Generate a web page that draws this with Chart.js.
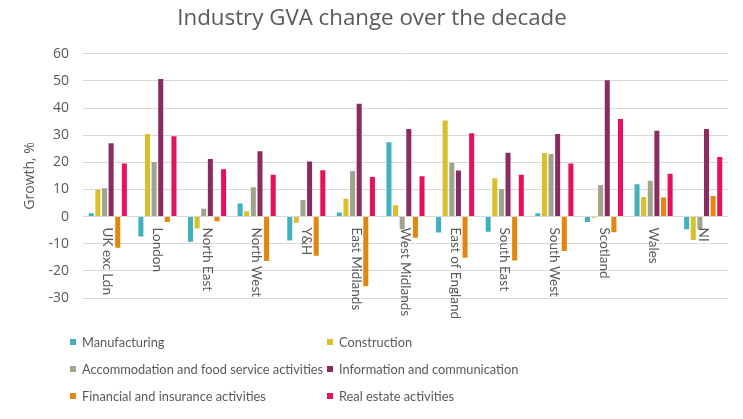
<!DOCTYPE html>
<html>
<head>
<meta charset="utf-8">
<script src="https://cdn.jsdelivr.net/npm/chart.js@4.4.0/dist/chart.umd.min.js"></script>
<style>
  html, body { margin: 0; padding: 0; background: #ffffff; }
  #wrap { position: relative; width: 743px; height: 419px; overflow: hidden; }
  #c { position: absolute; left: 0; top: 0; }
  #legend { position: absolute; left: 70px; top: 332px; font-family: Lato, sans-serif; font-size: 12.8px; color: #595959;
            display: grid; grid-template-columns: 257px 300px; row-gap: 7px; }
  .item { display: flex; align-items: center; height: 20px; white-space: nowrap; }
  .sw { width: 6px; height: 6px; margin-right: 6px; flex: none; }
</style>
</head>
<body>
<div id="wrap">
  <canvas id="c" width="743" height="419"></canvas>
  <div id="legend"></div>
</div>
<script>
const categories = ["UK exc Ldn", "London", "North East", "North West", "Y&H", "East Midlands", "West Midlands", "East of England", "South East", "South West", "Scotland", "Wales", "NI"];
const seriesNames = ["Manufacturing", "Construction", "Accommodation and food service activities", "Information and communication", "Financial and insurance activities", "Real estate activities"];
const manufacturing = [1.2, -7.3, -9.3, 4.8, -8.8, 1.5, 27.4, -5.9, -5.6, 1.2, -2.0, 11.9, -4.7];
const construction = [10.0, 30.4, -4.4, 2.0, -2.3, 6.6, 4.2, 35.4, 14.1, 23.4, -0.4, 7.2, -8.6];
const accommodation = [10.4, 20.1, 2.9, 10.8, 6.1, 16.8, -4.7, 19.8, 10.2, 23.1, 11.6, 13.2, -4.7];
const information = [27.0, 50.7, 21.2, 24.1, 20.3, 41.6, 32.3, 17.0, 23.5, 30.4, 50.2, 31.6, 32.3];
const financial = [-11.5, -2.0, -1.7, -16.4, -14.4, -25.7, -7.8, -15.2, -16.2, -12.7, -5.8, 7.0, 7.6];
const realEstate = [19.6, 29.6, 17.4, 15.4, 17.1, 14.6, 14.9, 30.7, 15.4, 19.6, 36.0, 15.8, 22.0];
const yTicks = [-30, -20, -10, 0, 10, 20, 30, 40, 50, 60];

const colors = ["#3fb1bf", "#d9bf2a", "#a3a38d", "#8a2c5f", "#e1870f", "#e5115b"];
const allData = [manufacturing, construction, accommodation, information, financial, realEstate];
const textColor = "#595959";

const datasets = seriesNames.map((name, i) => ({
  label: name,
  data: allData[i],
  backgroundColor: colors[i],
  borderWidth: 0,
  barPercentage: 0.76,
  categoryPercentage: 0.8
}));

const catLabels = {
  id: 'catLabels',
  afterDatasetsDraw(chart) {
    const ctx = chart.ctx;
    const xs = chart.scales.x, ys = chart.scales.y;
    const y0 = ys.getPixelForValue(0);
    ctx.save();
    ctx.font = '13.5px Lato, sans-serif';
    ctx.fillStyle = textColor;
    ctx.textAlign = 'left';
    ctx.textBaseline = 'middle';
    categories.forEach((c, i) => {
      const x = xs.getPixelForValue(i);
      ctx.save();
      ctx.translate(x, y0 + 11);
      ctx.rotate(Math.PI / 2);
      ctx.fillText(c, 0, 0);
      ctx.restore();
    });
    ctx.restore();
  }
};

new Chart(document.getElementById('c'), {
  type: 'bar',
  data: { labels: categories, datasets },
  options: {
    responsive: false,
    animation: false,
    layout: { padding: { left: 16, right: 15, top: 0, bottom: 121 } },
    plugins: {
      legend: { display: false },
      tooltip: { enabled: false },
      title: {
        display: true,
        text: 'Industry GVA change over the decade',
        color: textColor,
        font: { family: '"Open Sans", sans-serif', size: 22.3, weight: 'normal' },
        padding: { top: 5, bottom: 22 }
      }
    },
    scales: {
      x: {
        display: false,
        grid: { display: false }
      },
      y: {
        min: -30, max: 60,
        afterFit(s) { s.width = 67; },
        afterBuildTicks(s) { s.ticks = yTicks.map(v => ({ value: v })); },
        grid: { color: '#d9d9d9', lineWidth: 1, drawTicks: false },
        border: { display: false },
        ticks: { color: textColor, font: { family: '"Open Sans", sans-serif', size: 14 }, padding: 14 },
        title: {
          display: true, text: 'Growth, %', color: textColor,
          font: { family: '"Open Sans", sans-serif', size: 14 },
          padding: { top: 6, bottom: 0 }
        }
      }
    }
  },
  plugins: [catLabels]
});

const leg = document.getElementById('legend');
seriesNames.forEach((n, i) => {
  const d = document.createElement('div');
  d.className = 'item';
  d.innerHTML = '<span class="sw" style="background:' + colors[i] + '"></span><span></span>';
  d.lastChild.textContent = n;
  leg.appendChild(d);
});
</script>
</body>
</html>
